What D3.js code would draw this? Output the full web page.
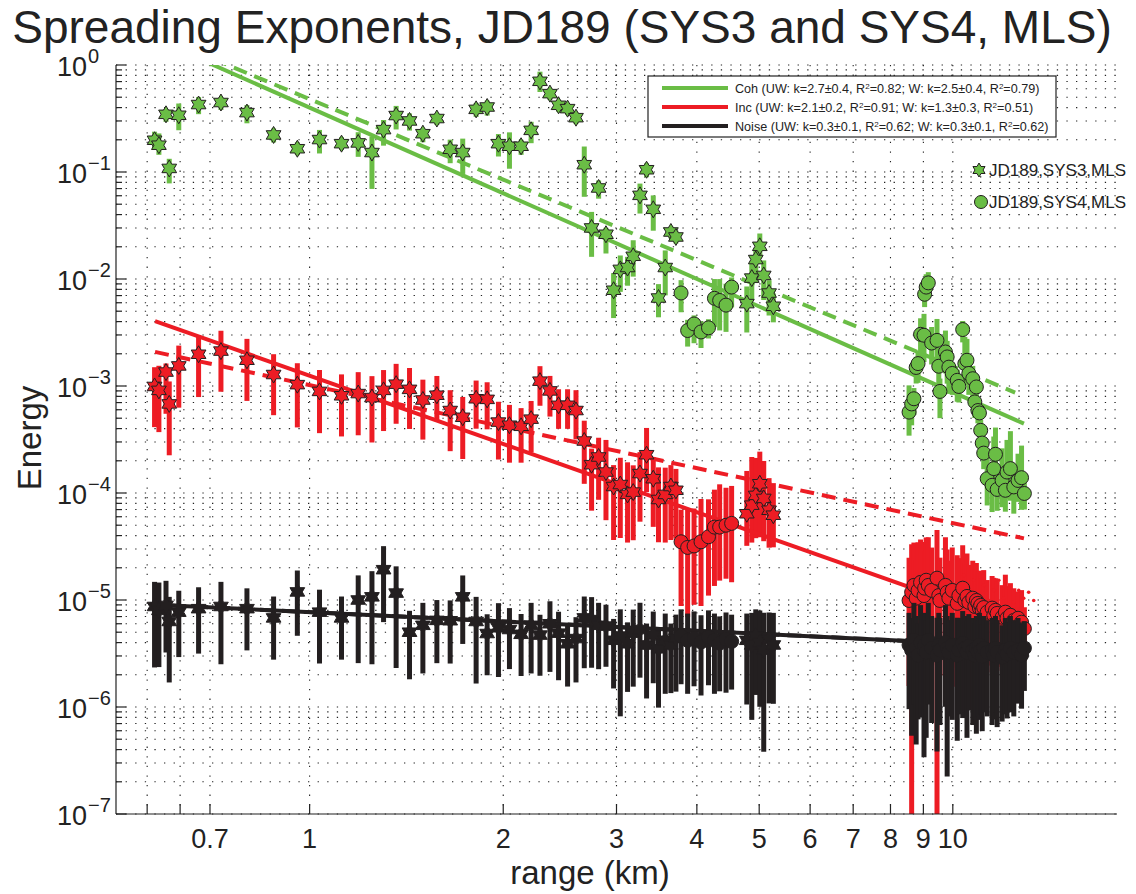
<!DOCTYPE html>
<html>
<head>
<meta charset="utf-8">
<script src="https://cdn.jsdelivr.net/npm/d3@7"></script>
<style>
  body { margin: 0; background: #fff; }
  svg { font-family: "Liberation Sans", Arial, Helvetica, sans-serif; }
</style>
</head>
<body>
<svg id="chart" width="1136" height="894"></svg>
<script>
// ---- SYS3 (stars): range in km and energy, error bar lengths in decades ----
const sys3Range = [0.574, 0.583, 0.598, 0.605, 0.626, 0.672, 0.728, 0.799, 0.879, 0.957,
  1.036, 1.121, 1.190, 1.250, 1.303, 1.363, 1.430, 1.500, 1.577, 1.654,
  1.730, 1.815, 1.888, 1.966, 2.045, 2.132, 2.210, 2.281, 2.364, 2.438,
  2.518, 2.595, 2.673, 2.744, 2.814, 2.889, 2.969, 3.041, 3.121, 3.185,
  3.263, 3.341, 3.422, 3.487, 3.572, 3.645, 3.711, 4.783, 4.869, 4.939,
  5.011, 5.082, 5.180, 5.260];

const cohStar = [0.198, 0.178, 0.346, 0.108, 0.339, 0.427, 0.446, 0.359, 0.222, 0.165,
  0.201, 0.184, 0.187, 0.152, 0.249, 0.337, 0.300, 0.228, 0.316, 0.163,
  0.152, 0.385, 0.405, 0.184, 0.174, 0.174, 0.245, 0.704, 0.540, 0.420,
  0.391, 0.322, 0.117, 0.0300, 0.0709, 0.0262, 0.00785, 0.0123, 0.0128, 0.0163,
  0.0605, 0.105, 0.0448, 0.00664, 0.0128, 0.0275, 0.0247, 0.00589, 0.0102, 0.0152,
  0.0202, 0.0108, 0.00739, 0.00556];
const cohStarUp = [0.08, 0.11, 0.05, 0.09, 0.11, 0.07, 0.05, 0.07, 0.06, 0.06,
  0.09, 0.06, 0.10, 0.15, 0.09, 0.09, 0.07, 0.05, 0.05, 0.09,
  0.13, 0.06, 0.06, 0.09, 0.13, 0.06, 0.08, 0.09, 0.05, 0.05,
  0.05, 0.05, 0.17, 0.15, 0.07, 0.06, 0.16, 0.13, 0.10, 0.15,
  0.11, 0.06, 0.13, 0.13, 0.16, 0.05, 0.06, 0.16, 0.14, 0.09,
  0.12, 0.14, 0.12, 0.12];
const cohStarDn = [0.08, 0.09, 0.07, 0.14, 0.14, 0.09, 0.07, 0.10, 0.07, 0.06,
  0.13, 0.06, 0.13, 0.34, 0.15, 0.13, 0.09, 0.08, 0.06, 0.13,
  0.20, 0.07, 0.08, 0.12, 0.21, 0.08, 0.12, 0.10, 0.06, 0.06,
  0.06, 0.06, 0.30, 0.27, 0.10, 0.18, 0.26, 0.21, 0.17, 0.19,
  0.17, 0.07, 0.20, 0.18, 0.26, 0.06, 0.06, 0.27, 0.21, 0.22,
  0.10, 0.23, 0.21, 0.15];

const incStar = [9.9e-4, 9.1e-4, 1.35e-3, 6.8e-4, 1.54e-3, 1.98e-3, 2.12e-3, 1.74e-3, 1.28e-3, 1.03e-3,
  8.9e-4, 8.1e-4, 8.5e-4, 7.8e-4, 9.1e-4, 1.04e-3, 9.3e-4, 7.4e-4, 8.2e-4, 5.9e-4,
  5.1e-4, 7.6e-4, 7.5e-4, 4.6e-4, 4.3e-4, 4.2e-4, 4.9e-4, 1.11e-3, 9.0e-4, 6.6e-4,
  6.6e-4, 5.9e-4, 3.06e-4, 1.84e-4, 2.17e-4, 1.57e-4, 1.15e-4, 1.2e-4, 9.7e-5, 1.02e-4,
  1.52e-4, 2.28e-4, 1.36e-4, 8.7e-5, 9.7e-5, 1.15e-4, 1.06e-4, 6.4e-5, 7.7e-5, 9.5e-5,
  1.22e-4, 8.9e-5, 6.9e-5, 6.2e-5];
const incStarUp = [0.18, 0.23, 0.08, 0.21, 0.19, 0.18, 0.19, 0.20, 0.19, 0.20,
  0.20, 0.20, 0.20, 0.20, 0.19, 0.19, 0.20, 0.19, 0.18, 0.19,
  0.19, 0.17, 0.16, 0.19, 0.19, 0.17, 0.17, 0.14, 0.14, 0.15,
  0.15, 0.19, 0.19, 0.15, 0.18, 0.30, 0.20, 0.25, 0.30, 0.25,
  0.20, 0.25, 0.20, 0.30, 0.25, 0.20, 0.20, 0.40, 0.45, 0.35,
  0.30, 0.35, 0.30, 0.30];
const incStarDn = [0.38, 0.39, 0.39, 0.48, 0.39, 0.40, 0.38, 0.38, 0.38, 0.40,
  0.39, 0.38, 0.39, 0.42, 0.38, 0.37, 0.37, 0.37, 0.24, 0.38,
  0.39, 0.28, 0.28, 0.35, 0.35, 0.34, 0.31, 0.23, 0.24, 0.22,
  0.22, 0.27, 0.40, 0.43, 0.40, 0.45, 0.50, 0.50, 0.45, 0.45,
  0.45, 0.35, 0.45, 0.40, 0.45, 0.50, 0.45, 0.30, 0.35, 0.40,
  0.50, 0.40, 0.35, 0.30];

const noiseStar = [8.7e-6, 8.0e-6, 8.9e-6, 6.3e-6, 7.7e-6, 8.3e-6, 8.7e-6, 8.3e-6, 6.8e-6, 1.19e-5,
  7.7e-6, 6.8e-6, 1.0e-5, 1.07e-5, 1.92e-5, 1.16e-5, 5.0e-6, 5.8e-6, 6.45e-6, 6.4e-6,
  1.07e-5, 6.3e-6, 4.86e-6, 5.5e-6, 5.3e-6, 4.78e-6, 5.8e-6, 4.7e-6, 6.0e-6, 4.9e-6,
  3.9e-6, 4.36e-6, 6.8e-6, 6.56e-6, 5.8e-6, 5.7e-6, 4.2e-6, 4.6e-6, 3.9e-6, 4.9e-6,
  5.3e-6, 3.8e-6, 4.7e-6, 3.5e-6, 4.2e-6, 3.8e-6, 4.4e-6, 4.2e-6, 3.8e-6, 4.6e-6,
  4.0e-6, 3.4e-6, 4.3e-6, 3.8e-6];
const noiseStarUp = [0.23, 0.26, 0.23, 0.23, 0.20, 0.20, 0.23, 0.19, 0.20, 0.20,
  0.21, 0.20, 0.23, 0.24, 0.22, 0.25, 0.20, 0.21, 0.19, 0.19,
  0.20, 0.23, 0.18, 0.23, 0.20, 0.19, 0.21, 0.19, 0.21, 0.20,
  0.18, 0.20, 0.20, 0.21, 0.21, 0.20, 0.20, 0.25, 0.20, 0.22,
  0.25, 0.20, 0.22, 0.20, 0.25, 0.20, 0.22, 0.25, 0.30, 0.25,
  0.30, 0.35, 0.25, 0.30];
const noiseStarDn = [0.57, 0.53, 0.44, 0.57, 0.42, 0.42, 0.54, 0.39, 0.39, 0.41,
  0.48, 0.39, 0.59, 0.63, 0.49, 0.70, 0.44, 0.45, 0.40, 0.40,
  0.44, 0.58, 0.39, 0.46, 0.37, 0.39, 0.45, 0.38, 0.45, 0.44,
  0.40, 0.41, 0.47, 0.45, 0.41, 0.38, 0.45, 0.75, 0.45, 0.50,
  0.45, 0.50, 0.45, 0.55, 0.50, 0.45, 0.50, 0.60, 0.70, 0.55,
  0.60, 0.95, 0.60, 0.55];

// ---- SYS4 (circles) ----
const sys4Range = [3.78, 3.87, 3.96, 4.06, 4.17, 4.26, 4.34, 4.44, 4.53,
  8.55, 8.63, 8.70, 8.77, 8.83, 8.91, 9.02, 9.04, 9.09, 9.16,
  9.27, 9.45, 9.51, 9.55, 9.74, 9.80, 9.86, 9.98, 10.16, 10.22,
  10.36, 10.44, 10.52, 10.59, 10.74, 10.82, 10.88, 10.94, 11.00, 11.05,
  11.11, 11.17, 11.31, 11.51, 11.58, 11.65, 11.72, 11.93, 12.07, 12.14,
  12.29, 12.44, 12.63, 12.79, 12.92];

const cohCirc = [7.4e-3, 3.3e-3, 3.8e-3, 3.2e-3, 3.5e-3, 6.6e-3, 6.3e-3, 5.7e-3, 8.4e-3,
  5.7e-4, 6.8e-4, 7.6e-4, 1.49e-3, 1.62e-3, 3.04e-3, 2.98e-3, 7.2e-3, 8.4e-3, 9.2e-3,
  2.52e-3, 2.67e-3, 1.53e-3, 8.9e-4, 2.08e-3, 1.87e-3, 1.5e-3, 1.31e-3, 1.13e-3, 9.9e-4,
  3.37e-3, 1.62e-3, 1.74e-3, 1.31e-3, 1.17e-3, 7.1e-4, 9.8e-4, 5.9e-4, 5.6e-4, 3.85e-4,
  2.93e-4, 2.36e-4, 1.36e-4, 1.18e-4, 1.69e-4, 2.3e-4, 1.08e-4, 1.31e-4, 1.06e-4, 1.57e-4,
  1.69e-4, 1.14e-4, 1.31e-4, 1.39e-4, 9.9e-5];
const cohCircUp = [0.12, 0.10, 0.08, 0.10, 0.08, 0.18, 0.20, 0.20, 0.09,
  0.25, 0.10, 0.10, 0.10, 0.12, 0.15, 0.20, 0.10, 0.12, 0.10,
  0.15, 0.20, 0.15, 0.12, 0.20, 0.15, 0.15, 0.10, 0.10, 0.10,
  0.08, 0.25, 0.20, 0.15, 0.12, 0.10, 0.10, 0.10, 0.10, 0.10,
  0.10, 0.10, 0.20, 0.20, 0.30, 0.25, 0.15, 0.30, 0.20, 0.30,
  0.35, 0.20, 0.25, 0.30, 0.15];
const cohCircDn = [0.18, 0.15, 0.18, 0.15, 0.10, 0.27, 0.28, 0.25, 0.19,
  0.22, 0.20, 0.15, 0.15, 0.18, 0.30, 0.25, 0.12, 0.10, 0.10,
  0.20, 0.25, 0.30, 0.25, 0.20, 0.25, 0.25, 0.20, 0.20, 0.15,
  0.12, 0.20, 0.20, 0.20, 0.20, 0.15, 0.15, 0.12, 0.12, 0.12,
  0.12, 0.15, 0.25, 0.25, 0.20, 0.20, 0.20, 0.25, 0.20, 0.25,
  0.30, 0.25, 0.20, 0.30, 0.15];

const incCirc = [3.5e-5, 3.1e-5, 3.2e-5, 3.5e-5, 3.9e-5, 4.8e-5, 4.8e-5, 5.0e-5, 5.2e-5,
  9.9e-6, 1.18e-5, 1.37e-5, 1.04e-5, 1.23e-5, 1.46e-5, 1.1e-5, 1.29e-5, 1.53e-5, 1.37e-5,
  1.23e-5, 1.6e-5, 1.1e-5, 9.9e-6, 1.37e-5, 1.18e-5, 1.04e-5, 1.23e-5, 9.3e-6, 1.1e-5,
  1.29e-5, 9.9e-6, 1.08e-5, 9.5e-6, 1.04e-5, 8.7e-6, 9.9e-6, 9.3e-6, 8.4e-6, 8.9e-6,
  8.0e-6, 8.5e-6, 7.7e-6, 8.4e-6, 7.2e-6, 8.0e-6, 7.5e-6, 6.9e-6, 7.7e-6, 6.75e-6,
  7.2e-6, 6.45e-6, 6.75e-6, 6.2e-6, 5.4e-6];
const incCircUp = [0.30, 0.35, 0.35, 0.40, 0.35, 0.35, 0.40, 0.35, 0.35,
  0.40, 0.45, 0.40, 0.35, 0.45, 0.40, 0.50, 0.35, 0.40, 0.45,
  0.40, 0.45, 0.35, 0.40, 0.45, 0.40, 0.35, 0.40, 0.45, 0.35,
  0.40, 0.35, 0.40, 0.35, 0.35, 0.40, 0.35, 0.30, 0.35, 0.30,
  0.30, 0.35, 0.30, 0.30, 0.35, 0.30, 0.30, 0.30, 0.35, 0.30,
  0.30, 0.30, 0.25, 0.30, 0.20];
const incCircDn = [0.60, 0.65, 0.55, 0.60, 0.55, 0.55, 0.50, 0.50, 0.55,
  0.80, 3.50, 0.70, 0.90, 0.60, 0.80, 1.00, 0.70, 0.60, 0.80,
  0.70, 3.50, 0.90, 0.70, 1.10, 0.80, 0.70, 0.90, 0.60, 0.70,
  0.80, 0.60, 0.90, 0.70, 0.60, 0.70, 0.60, 0.70, 0.60, 0.50,
  0.60, 0.50, 0.50, 0.60, 0.50, 0.60, 0.50, 0.50, 0.40, 0.50,
  0.50, 0.40, 0.40, 0.40, 0.30];

const noiseCirc = [4.6e-6, 4.2e-6, 4.4e-6, 4.05e-6, 4.5e-6, 4.2e-6, 3.95e-6, 4.3e-6, 4.1e-6,
  3.8e-6, 3.4e-6, 4.2e-6, 3.55e-6, 3.05e-6, 4.0e-6, 3.4e-6, 3.8e-6, 3.25e-6, 4.2e-6,
  3.55e-6, 3.05e-6, 3.8e-6, 3.4e-6, 4.0e-6, 3.55e-6, 3.25e-6, 3.8e-6, 3.05e-6, 3.4e-6,
  3.95e-6, 3.55e-6, 3.25e-6, 3.7e-6, 3.4e-6, 3.05e-6, 3.55e-6, 3.25e-6, 3.8e-6, 3.4e-6,
  2.98e-6, 3.55e-6, 3.25e-6, 3.4e-6, 3.05e-6, 3.55e-6, 3.25e-6, 2.91e-6, 3.4e-6, 3.11e-6,
  3.55e-6, 3.25e-6, 3.4e-6, 3.05e-6, 3.55e-6];
const noiseCircUp = [0.25, 0.25, 0.25, 0.25, 0.25, 0.25, 0.25, 0.25, 0.25,
  0.30, 0.30, 0.35, 0.30, 0.30, 0.35, 0.30, 0.30, 0.30, 0.35,
  0.30, 0.35, 0.30, 0.30, 0.35, 0.30, 0.30, 0.30, 0.35, 0.30,
  0.30, 0.30, 0.30, 0.30, 0.30, 0.30, 0.30, 0.30, 0.30, 0.30,
  0.30, 0.30, 0.30, 0.30, 0.30, 0.30, 0.30, 0.30, 0.30, 0.30,
  0.30, 0.30, 0.30, 0.30, 0.25];
const noiseCircDn = [0.45, 0.50, 0.45, 0.50, 0.45, 0.50, 0.45, 0.50, 0.45,
  0.60, 0.80, 0.60, 0.90, 0.60, 0.70, 1.00, 0.60, 0.80, 0.60,
  0.70, 0.90, 0.60, 0.70, 0.60, 1.20, 0.60, 0.70, 0.80, 0.60,
  0.70, 0.60, 0.80, 0.60, 0.70, 0.60, 0.80, 0.60, 0.70, 0.60,
  0.70, 0.60, 0.60, 0.70, 0.60, 0.60, 0.70, 0.60, 0.60, 0.60,
  0.60, 0.60, 0.50, 0.50, 0.40];

// small incoherent points without bars (SYS4, far ranges)
const incDotRange = [10.40, 10.59, 10.78, 10.97, 11.17, 11.37, 11.58, 11.79, 12.00, 12.22, 12.44, 12.66, 12.89, 13.12, 13.36];
const incDotVal = [1.7e-5, 1.23e-5, 1.53e-5, 1.1e-5, 1.37e-5, 9.9e-6, 1.23e-5, 1.53e-5, 1.04e-5, 1.29e-5, 9.5e-6, 1.23e-5, 1.04e-5, 1.18e-5, 9.9e-6];

// ---- power-law fits E = A * r^-k (UW solid, W dashed) ----
const fitNames = ['Coh', 'Inc', 'Noise'];
const uwA = [0.40, 1.25e-3, 7.7e-6];
const uwK = [2.66, 2.12, 0.29];
const wA = [0.48, 1.02e-3, 7.7e-6];
const wK = [2.5, 1.29, 0.29];
const fitStart = [0.57, 0.575, 0.565];
const uwEnd = [12.9, 13.0, 13.0];
const wEnd = [12.5, 12.9, 13.0];
const legendText = [
  ['Coh (UW: k=2.7\u00b10.4, R', '=0.82; W: k=2.5\u00b10.4, R', '=0.79)'],
  ['Inc (UW: k=2.1\u00b10.2, R', '=0.91; W: k=1.3\u00b10.3, R', '=0.51)'],
  ['Noise (UW: k=0.3\u00b10.1, R', '=0.62; W: k=0.3\u00b10.1, R', '=0.62)']
];
const markerLegend = ['JD189,SYS3,MLS', 'JD189,SYS4,MLS'];

const xTicks = [0.559, 0.629, 0.7, 1, 2, 3, 4, 5, 6, 7, 8, 9, 10];
const xTickLabels = ['', '', '0.7', '1', '2', '3', '4', '5', '6', '7', '8', '9', '10'];
const yDecades = [0, -1, -2, -3, -4, -5, -6, -7];

const colors = ['#6abd45', '#ed1c24', '#231f20'];
const edge = '#231f20';

// ---- layout ----
const svg = d3.select('#chart');
const width = 1136, height = 894;
const margin = { top: 65, right: 19, bottom: 80, left: 116 };
const x = d3.scaleLog().domain([0.5, 18]).range([margin.left, width - margin.right]);
const y = d3.scaleLog().domain([1e-7, 1]).range([height - margin.bottom, margin.top]);

svg.append('defs').append('clipPath').attr('id', 'plotClip')
  .append('rect')
  .attr('x', margin.left).attr('y', margin.top)
  .attr('width', width - margin.left - margin.right)
  .attr('height', height - margin.top - margin.bottom);

// dotted grid
const gridG = svg.append('g').attr('class', 'grid');
const yGridVals = [];
yDecades.forEach((e) => {
  for (let m = 1; m <= 9; m++) {
    const v = m * Math.pow(10, e);
    if (v <= 1.0000001 && v >= 1e-7) yGridVals.push(v);
  }
});
gridG.selectAll('line.hg').data(yGridVals).join('line')
  .attr('class', 'hg')
  .attr('x1', margin.left).attr('x2', width - margin.right)
  .attr('y1', (d) => y(d)).attr('y2', (d) => y(d))
  .attr('stroke', '#222').attr('stroke-width', 1.1)
  .attr('stroke-dasharray', '1.3,8.3');
gridG.selectAll('line.vg').data(xTicks).join('line')
  .attr('class', 'vg')
  .attr('x1', (d) => x(d)).attr('x2', (d) => x(d))
  .attr('y1', margin.top).attr('y2', height - margin.bottom)
  .attr('stroke', '#222').attr('stroke-width', 1.1)
  .attr('stroke-dasharray', '1.3,8.3');

// hexagram marker path
function hexagram(R) {
  const pts = [];
  for (let i = 0; i < 12; i++) {
    const a = -Math.PI / 2 + i * Math.PI / 6;
    const r = i % 2 === 0 ? R : R / Math.sqrt(3);
    pts.push([r * Math.cos(a), r * Math.sin(a)]);
  }
  return 'M' + pts.map((p) => p[0].toFixed(2) + ',' + p[1].toFixed(2)).join('L') + 'Z';
}
const starPath = hexagram(8.5);

function drawBars(g, ranges, vals, up, dn, color) {
  g.append('g').selectAll('line').data(d3.range(ranges.length)).join('line')
    .attr('x1', (i) => x(ranges[i])).attr('x2', (i) => x(ranges[i]))
    .attr('y1', (i) => y(vals[i] * Math.pow(10, up[i])))
    .attr('y2', (i) => y(Math.max(vals[i] * Math.pow(10, -dn[i]), 1e-9)))
    .attr('stroke', color).attr('stroke-width', 5);
}

function drawFit(g, i) {
  const uw = [fitStart[i], uwEnd[i]].map((r) => [r, uwA[i] * Math.pow(r, -uwK[i])]);
  const w = [fitStart[i], wEnd[i]].map((r) => [r, wA[i] * Math.pow(r, -wK[i])]);
  const line = d3.line().x((d) => x(d[0])).y((d) => y(d[1]));
  g.append('path').attr('d', line(w)).attr('fill', 'none')
    .attr('stroke', colors[i]).attr('stroke-width', 4).attr('stroke-dasharray', '14,8');
  g.append('path').attr('d', line(uw)).attr('fill', 'none')
    .attr('stroke', colors[i]).attr('stroke-width', 4);
}

function drawStars(g, ranges, vals, color) {
  g.append('g').selectAll('path').data(d3.range(ranges.length)).join('path')
    .attr('d', starPath)
    .attr('transform', (i) => 'translate(' + x(ranges[i]) + ',' + y(vals[i]) + ')')
    .attr('fill', color).attr('stroke', edge).attr('stroke-width', 1);
}

function drawCircles(g, ranges, vals, color) {
  g.append('g').selectAll('circle').data(d3.range(ranges.length)).join('circle')
    .attr('cx', (i) => x(ranges[i])).attr('cy', (i) => y(vals[i]))
    .attr('r', 7)
    .attr('fill', color).attr('stroke', edge).attr('stroke-width', 1);
}

const series = [
  { s3: cohStar, s3u: cohStarUp, s3d: cohStarDn, s4: cohCirc, s4u: cohCircUp, s4d: cohCircDn },
  { s3: incStar, s3u: incStarUp, s3d: incStarDn, s4: incCirc, s4u: incCircUp, s4d: incCircDn },
  { s3: noiseStar, s3u: noiseStarUp, s3d: noiseStarDn, s4: noiseCirc, s4u: noiseCircUp, s4d: noiseCircDn }
];

series.forEach((s, i) => {
  const g = svg.append('g').attr('class', 'series-' + fitNames[i]);
  const clipped = g.append('g').attr('clip-path', 'url(#plotClip)');
  drawBars(clipped, sys3Range, s.s3, s.s3u, s.s3d, colors[i]);
  drawBars(clipped, sys4Range, s.s4, s.s4u, s.s4d, colors[i]);
  drawFit(clipped, i);
  if (i === 1) {
    g.append('g').selectAll('circle').data(d3.range(incDotRange.length)).join('circle')
      .attr('cx', (k) => x(incDotRange[k])).attr('cy', (k) => y(incDotVal[k]))
      .attr('r', 1.8).attr('fill', colors[1]);
  }
  drawStars(g, sys3Range, s.s3, colors[i]);
  drawCircles(g, sys4Range, s.s4, colors[i]);
});

// ---- axes ----
const axG = svg.append('g').attr('class', 'axes');
axG.append('line')
  .attr('x1', margin.left).attr('x2', width - margin.right)
  .attr('y1', height - margin.bottom).attr('y2', height - margin.bottom)
  .attr('stroke', '#222').attr('stroke-width', 1.2);
axG.append('line')
  .attr('x1', margin.left).attr('x2', margin.left)
  .attr('y1', margin.top).attr('y2', height - margin.bottom)
  .attr('stroke', '#222').attr('stroke-width', 1.2);

axG.selectAll('line.xt').data(xTicks).join('line')
  .attr('class', 'xt')
  .attr('x1', (d) => x(d)).attr('x2', (d) => x(d))
  .attr('y1', height - margin.bottom).attr('y2', height - margin.bottom - 10)
  .attr('stroke', '#222').attr('stroke-width', 1.2);
axG.selectAll('text.xl').data(xTicks).join('text')
  .attr('class', 'xl')
  .attr('x', (d) => x(d)).attr('y', 848)
  .attr('text-anchor', 'middle').attr('font-size', 27).attr('fill', '#222')
  .text((d, i) => xTickLabels[i]);

axG.selectAll('line.yt').data(yGridVals).join('line')
  .attr('class', 'yt')
  .attr('x1', margin.left)
  .attr('x2', (d) => margin.left + (Math.abs(Math.log10(d) - Math.round(Math.log10(d))) < 1e-6 ? 10 : 6))
  .attr('y1', (d) => y(d)).attr('y2', (d) => y(d))
  .attr('stroke', '#222').attr('stroke-width', 1.2);

const yLab = axG.selectAll('text.yl').data(yDecades).join('text')
  .attr('class', 'yl')
  .attr('x', 57).attr('y', (d) => y(Math.pow(10, d)) + 11)
  .attr('font-size', 27).attr('fill', '#222');
yLab.append('tspan').text('10');
yLab.append('tspan').attr('dx', 1).attr('dy', -13).attr('font-size', 20)
  .text((d) => (d < 0 ? '\u2212' + Math.abs(d) : String(d)));

// titles
svg.append('text').attr('x', 562).attr('y', 43).attr('text-anchor', 'middle')
  .attr('font-size', 46).attr('fill', '#222')
  .text('Spreading Exponents, JD189 (SYS3 and SYS4, MLS)');
svg.append('text').attr('x', 590).attr('y', 884).attr('text-anchor', 'middle')
  .attr('font-size', 33).attr('fill', '#222').text('range (km)');
svg.append('text').attr('transform', 'translate(41,438) rotate(-90)')
  .attr('text-anchor', 'middle').attr('font-size', 33).attr('fill', '#222').text('Energy');

// ---- fit legend ----
const legG = svg.append('g').attr('class', 'legend');
legG.append('rect').attr('x', 648).attr('y', 76).attr('width', 408).attr('height', 61)
  .attr('fill', '#fff').attr('stroke', '#222').attr('stroke-width', 1.2);
legendText.forEach((parts, i) => {
  const ly = 88 + i * 19;
  legG.append('line').attr('x1', 662).attr('x2', 728).attr('y1', ly).attr('y2', ly)
    .attr('stroke', colors[i]).attr('stroke-width', 4);
  const t = legG.append('text').attr('x', 735).attr('y', ly + 4.5)
    .attr('font-size', 12.6).attr('fill', '#222');
  t.append('tspan').text(parts[0]);
  t.append('tspan').attr('dy', -4).attr('font-size', 8).text('2');
  t.append('tspan').attr('dy', 4).text(parts[1]);
  t.append('tspan').attr('dy', -4).attr('font-size', 8).text('2');
  t.append('tspan').attr('dy', 4).text(parts[2]);
});

// ---- marker legend ----
const mlG = svg.append('g').attr('class', 'marker-legend');
mlG.append('path').attr('d', hexagram(7)).attr('transform', 'translate(979,170)')
  .attr('fill', colors[0]).attr('stroke', edge).attr('stroke-width', 1);
mlG.append('circle').attr('cx', 981).attr('cy', 202).attr('r', 6.5)
  .attr('fill', colors[0]).attr('stroke', edge).attr('stroke-width', 1);
mlG.selectAll('text').data(markerLegend).join('text')
  .attr('x', 989).attr('y', (d, i) => 176 + i * 32)
  .attr('font-size', 17).attr('fill', '#222').text((d) => d);
</script>
</body>
</html>
